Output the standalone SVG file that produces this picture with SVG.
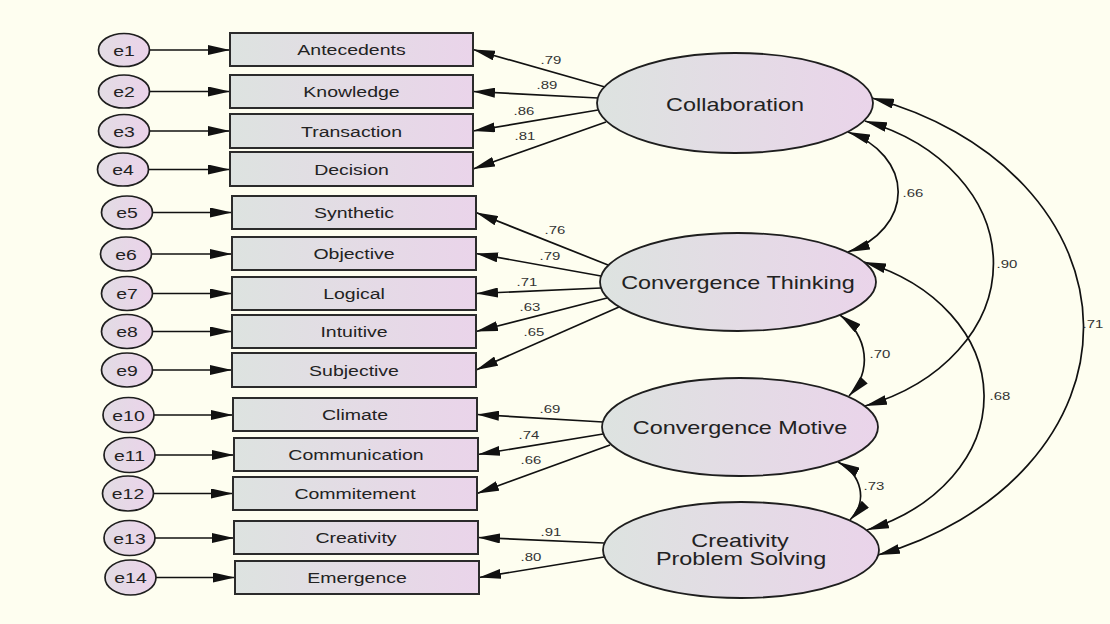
<svg xmlns="http://www.w3.org/2000/svg" width="1110" height="624" viewBox="0 0 1110 624">
  <style>
    text { font-family: "Liberation Sans", Arial, sans-serif; fill: #222; text-anchor: middle; }
    .box { fill: url(#fillGrad); stroke: #2b2b2b; stroke-width: 2; }
    .lat { fill: url(#fillGrad); stroke: #1e1e1e; stroke-width: 1.8; }
    .err { fill: url(#errGrad); stroke: #1e1e1e; stroke-width: 1.7; }
    .lbl { font-size: 15px; }
    .elbl { font-size: 15.5px; }
    .big { font-size: 18px; }
    .coef { font-size: 11.5px; fill: #333; }
    .arr { fill: none; stroke: #111; stroke-width: 1.7; marker-end: url(#head); }
    .cov { fill: none; stroke: #111; stroke-width: 1.7; marker-start: url(#headStart); marker-end: url(#head); }
  </style>
  <defs>
    <linearGradient id="fillGrad" x1="0" y1="0" x2="1" y2="0">
      <stop offset="0" stop-color="#DDE3E0"/>
      <stop offset="1" stop-color="#EAD4EA"/>
    </linearGradient>
    <linearGradient id="errGrad" x1="0" y1="0" x2="1" y2="0">
      <stop offset="0" stop-color="#E2DCE4"/>
      <stop offset="1" stop-color="#EBD3EA"/>
    </linearGradient>
    <marker id="head" viewBox="0 0 22 10" refX="22" refY="5" markerWidth="22" markerHeight="10" markerUnits="userSpaceOnUse" orient="auto">
      <path d="M0,0 L22,5 L0,10 Z" fill="#111"/>
    </marker>
    <marker id="headStart" viewBox="0 0 22 10" refX="22" refY="5" markerWidth="22" markerHeight="10" markerUnits="userSpaceOnUse" orient="auto-start-reverse">
      <path d="M0,0 L22,5 L0,10 Z" fill="#111"/>
    </marker>
  </defs>

  <rect x="0" y="0" width="1110" height="624" fill="#FEFEF0"/>

  <!-- connectors -->
  <g id="connectors">
    <!-- error terms to indicators -->
    <line class="arr" x1="150" y1="50" x2="230" y2="50"/>
    <line class="arr" x1="150" y1="91.5" x2="230" y2="91.5"/>
    <line class="arr" x1="150" y1="131" x2="230" y2="131"/>
    <line class="arr" x1="149" y1="169.5" x2="230" y2="169.5"/>
    <line class="arr" x1="152" y1="212.5" x2="232" y2="212.5"/>
    <line class="arr" x1="151" y1="254" x2="232" y2="254"/>
    <line class="arr" x1="152" y1="293.5" x2="232" y2="293.5"/>
    <line class="arr" x1="152" y1="331.5" x2="232" y2="331.5"/>
    <line class="arr" x1="152" y1="370" x2="232" y2="370"/>
    <line class="arr" x1="154" y1="415" x2="233" y2="415"/>
    <line class="arr" x1="155" y1="455" x2="234" y2="455"/>
    <line class="arr" x1="153" y1="493.5" x2="233" y2="493.5"/>
    <line class="arr" x1="155" y1="538" x2="234" y2="538"/>
    <line class="arr" x1="156" y1="577.5" x2="235" y2="577.5"/>

    <!-- Collaboration loadings -->
    <line class="arr" x1="605" y1="87" x2="473" y2="49.5"/>
    <line class="arr" x1="598" y1="98" x2="473" y2="91.5"/>
    <line class="arr" x1="598" y1="110" x2="473" y2="131"/>
    <line class="arr" x1="606" y1="122" x2="473" y2="169"/>

    <!-- Convergence Thinking loadings -->
    <line class="arr" x1="608" y1="265" x2="476" y2="212.5"/>
    <line class="arr" x1="601" y1="276" x2="476" y2="253.5"/>
    <line class="arr" x1="601" y1="288" x2="476" y2="293.5"/>
    <line class="arr" x1="607" y1="298" x2="476" y2="331.5"/>
    <line class="arr" x1="619" y1="307" x2="476" y2="370"/>

    <!-- Convergence Motive loadings -->
    <line class="arr" x1="603" y1="422" x2="477" y2="414.5"/>
    <line class="arr" x1="603" y1="434" x2="478" y2="454.5"/>
    <line class="arr" x1="610" y1="445" x2="477" y2="493.5"/>

    <!-- Creativity Problem Solving loadings -->
    <line class="arr" x1="604" y1="543" x2="478" y2="537.5"/>
    <line class="arr" x1="604" y1="557" x2="479" y2="577.5"/>

    <!-- covariances between factors -->
    <path class="cov" d="M848,132 A86,66 0 0 1 848,252"/>
    <path class="cov" d="M865,121 A197,152 0 0 1 865,406"/>
    <path class="cov" d="M872,98 A316,243 0 0 1 878,555"/>
    <path class="cov" d="M864,262 A187,144 0 0 1 867,530"/>
    <path class="cov" d="M840,315 A80,62 0 0 1 849,396"/>
    <path class="cov" d="M838,462 A50,40 0 0 1 850,520"/>

    <!-- coefficients -->
    <text class="coef" transform="translate(551 64) scale(1.3 1)">.79</text>
    <text class="coef" transform="translate(547 89) scale(1.3 1)">.89</text>
    <text class="coef" transform="translate(524 115) scale(1.3 1)">.86</text>
    <text class="coef" transform="translate(525 140) scale(1.3 1)">.81</text>

    <text class="coef" transform="translate(555 234) scale(1.3 1)">.76</text>
    <text class="coef" transform="translate(550 260) scale(1.3 1)">.79</text>
    <text class="coef" transform="translate(527 286) scale(1.3 1)">.71</text>
    <text class="coef" transform="translate(530 311) scale(1.3 1)">.63</text>
    <text class="coef" transform="translate(534 336) scale(1.3 1)">.65</text>

    <text class="coef" transform="translate(550 413) scale(1.3 1)">.69</text>
    <text class="coef" transform="translate(529 439) scale(1.3 1)">.74</text>
    <text class="coef" transform="translate(531 464) scale(1.3 1)">.66</text>

    <text class="coef" transform="translate(551 536) scale(1.3 1)">.91</text>
    <text class="coef" transform="translate(531 561) scale(1.3 1)">.80</text>

    <text class="coef" transform="translate(913 197) scale(1.3 1)">.66</text>
    <text class="coef" transform="translate(1007 268) scale(1.3 1)">.90</text>
    <text class="coef" transform="translate(1093 328) scale(1.3 1)">.71</text>
    <text class="coef" transform="translate(880 358) scale(1.3 1)">.70</text>
    <text class="coef" transform="translate(1000 400) scale(1.3 1)">.68</text>
    <text class="coef" transform="translate(874 490) scale(1.3 1)">.73</text>
  </g>

  <!-- error terms -->
  <g id="e1"><ellipse class="err" cx="124" cy="50" rx="25.5" ry="16.5"/><text class="elbl" transform="translate(124 55.5) scale(1.25 1)">e1</text></g>
  <g id="e2"><ellipse class="err" cx="124" cy="91.5" rx="25.5" ry="16.5"/><text class="elbl" transform="translate(124 97) scale(1.25 1)">e2</text></g>
  <g id="e3"><ellipse class="err" cx="124" cy="131" rx="25.5" ry="16.5"/><text class="elbl" transform="translate(124 136.5) scale(1.25 1)">e3</text></g>
  <g id="e4"><ellipse class="err" cx="123" cy="169.5" rx="25.5" ry="16.5"/><text class="elbl" transform="translate(123 175) scale(1.25 1)">e4</text></g>
  <g id="e5"><ellipse class="err" cx="127" cy="212.5" rx="25.5" ry="16.5"/><text class="elbl" transform="translate(127 218) scale(1.25 1)">e5</text></g>
  <g id="e6"><ellipse class="err" cx="126" cy="254" rx="25.5" ry="17"/><text class="elbl" transform="translate(126 259.5) scale(1.25 1)">e6</text></g>
  <g id="e7"><ellipse class="err" cx="127" cy="293.5" rx="25.5" ry="17"/><text class="elbl" transform="translate(127 299) scale(1.25 1)">e7</text></g>
  <g id="e8"><ellipse class="err" cx="127" cy="331.5" rx="25.5" ry="17"/><text class="elbl" transform="translate(127 337) scale(1.25 1)">e8</text></g>
  <g id="e9"><ellipse class="err" cx="127" cy="370" rx="25.5" ry="17"/><text class="elbl" transform="translate(127 375.5) scale(1.25 1)">e9</text></g>
  <g id="e10"><ellipse class="err" cx="128.5" cy="415" rx="25.5" ry="17.5"/><text class="elbl" transform="translate(128.5 420.5) scale(1.25 1)">e10</text></g>
  <g id="e11"><ellipse class="err" cx="129.5" cy="455" rx="25.5" ry="17.5"/><text class="elbl" transform="translate(129.5 460.5) scale(1.25 1)">e11</text></g>
  <g id="e12"><ellipse class="err" cx="128" cy="493.5" rx="25.5" ry="17.5"/><text class="elbl" transform="translate(128 499) scale(1.25 1)">e12</text></g>
  <g id="e13"><ellipse class="err" cx="129.5" cy="538" rx="25.5" ry="17.5"/><text class="elbl" transform="translate(129.5 543.5) scale(1.25 1)">e13</text></g>
  <g id="e14"><ellipse class="err" cx="130.5" cy="577.5" rx="25.5" ry="17.5"/><text class="elbl" transform="translate(130.5 583) scale(1.25 1)">e14</text></g>

  <!-- observed indicators -->
  <g id="antecedents"><rect class="box" x="230" y="33" width="243" height="33"/><text class="lbl" transform="translate(351.5 55) scale(1.3 1)">Antecedents</text></g>
  <g id="knowledge"><rect class="box" x="230" y="75" width="243" height="33"/><text class="lbl" transform="translate(351.5 97) scale(1.3 1)">Knowledge</text></g>
  <g id="transaction"><rect class="box" x="230" y="114" width="243" height="34"/><text class="lbl" transform="translate(351.5 136.5) scale(1.3 1)">Transaction</text></g>
  <g id="decision"><rect class="box" x="230" y="152" width="243" height="34"/><text class="lbl" transform="translate(351.5 174.5) scale(1.3 1)">Decision</text></g>
  <g id="synthetic"><rect class="box" x="232" y="196" width="244" height="33"/><text class="lbl" transform="translate(354 218) scale(1.3 1)">Synthetic</text></g>
  <g id="objective"><rect class="box" x="232" y="237" width="244" height="33"/><text class="lbl" transform="translate(354 259) scale(1.3 1)">Objective</text></g>
  <g id="logical"><rect class="box" x="232" y="277" width="244" height="33"/><text class="lbl" transform="translate(354 299) scale(1.3 1)">Logical</text></g>
  <g id="intuitive"><rect class="box" x="232" y="315" width="244" height="33"/><text class="lbl" transform="translate(354 337) scale(1.3 1)">Intuitive</text></g>
  <g id="subjective"><rect class="box" x="232" y="353" width="244" height="34"/><text class="lbl" transform="translate(354 375.5) scale(1.3 1)">Subjective</text></g>
  <g id="climate"><rect class="box" x="233" y="398" width="244" height="33"/><text class="lbl" transform="translate(355 420) scale(1.3 1)">Climate</text></g>
  <g id="communication"><rect class="box" x="234" y="438" width="244" height="33"/><text class="lbl" transform="translate(356 460) scale(1.3 1)">Communication</text></g>
  <g id="commitement"><rect class="box" x="233" y="477" width="244" height="33"/><text class="lbl" transform="translate(355 499) scale(1.3 1)">Commitement</text></g>
  <g id="creativity"><rect class="box" x="234" y="521" width="244" height="33"/><text class="lbl" transform="translate(356 543) scale(1.3 1)">Creativity</text></g>
  <g id="emergence"><rect class="box" x="235" y="561" width="244" height="33"/><text class="lbl" transform="translate(357 583) scale(1.3 1)">Emergence</text></g>

  <!-- latent factors -->
  <g id="collaboration"><ellipse class="lat" cx="735" cy="103" rx="138" ry="50"/><text class="big" transform="translate(735 110.5) scale(1.3 1)">Collaboration</text></g>
  <g id="convergence-thinking"><ellipse class="lat" cx="738" cy="282" rx="138" ry="49"/><text class="big" transform="translate(738 289) scale(1.3 1)">Convergence Thinking</text></g>
  <g id="convergence-motive"><ellipse class="lat" cx="740" cy="427" rx="138" ry="49"/><text class="big" transform="translate(740 434) scale(1.3 1)">Convergence Motive</text></g>
  <g id="creativity-problem-solving"><ellipse class="lat" cx="741" cy="550" rx="138" ry="48"/><text class="big" transform="translate(740 547) scale(1.3 1)">Creativity</text><text class="big" transform="translate(741 565) scale(1.3 1)">Problem Solving</text></g>
</svg>
